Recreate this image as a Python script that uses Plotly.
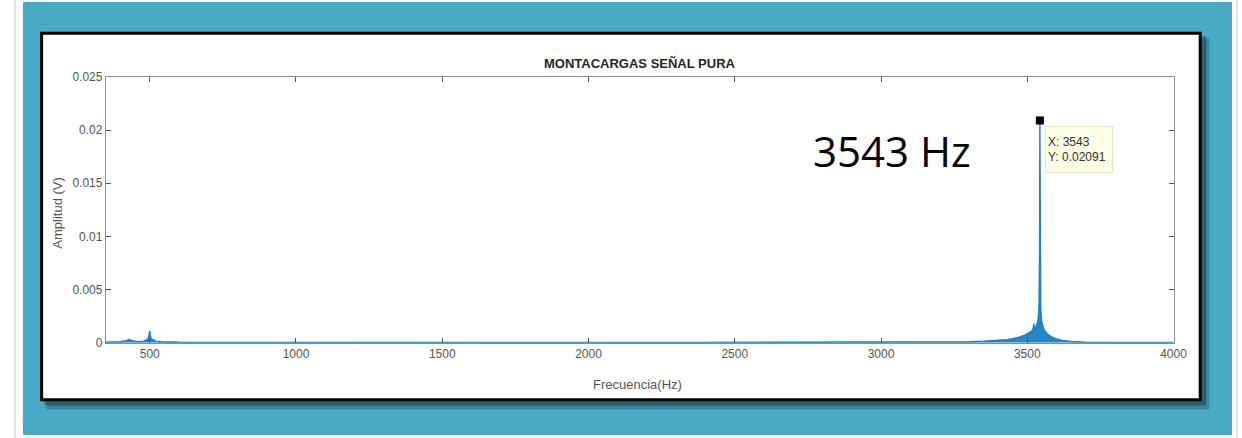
import plotly.graph_objects as go

# ---- data ----
freq_hz = [350, 380, 400, 420, 430, 440, 460, 480, 490, 495, 500, 503, 505, 510, 520, 540,
           600, 700, 900, 1200, 1500, 1800, 2100, 2400, 2700, 2900, 3100, 3200, 3300, 3350,
           3400, 3430, 3450, 3470, 3490, 3505, 3515, 3520, 3522, 3525, 3530, 3535, 3538,
           3540, 3541, 3542, 3543, 3544, 3545, 3546, 3548, 3550, 3555, 3560, 3570, 3580,
           3590, 3600, 3620, 3650, 3700, 3800, 3900, 4000]
amplitude_v = [0.00005, 0.00008, 0.0001, 0.0002, 0.0003, 0.0002, 0.0001, 0.00015, 0.0003,
               0.0004, 0.0011, 0.0004, 0.0003, 0.0003, 0.00015, 0.0001,
               0.00005, 0.00004, 0.00003, 0.00003, 0.00003, 0.00003, 0.00003, 0.00003,
               0.00003, 0.00004, 0.00005, 0.00007, 0.0001, 0.00014,
               0.0002, 0.00028, 0.00038, 0.0005, 0.0007, 0.0009, 0.0011, 0.0013, 0.0018,
               0.0012, 0.0015, 0.0019, 0.0024,
               0.0035, 0.0055, 0.0085, 0.02091, 0.0075, 0.0048, 0.0033, 0.0024, 0.0019,
               0.0014, 0.0011, 0.0008, 0.0006,
               0.00045, 0.00035, 0.00022, 0.00012, 0.00006, 0.00003, 0.00002, 0.00002]

peak_freq = 3543
peak_amp = 0.02091

x_tickvals = [500, 1000, 1500, 2000, 2500, 3000, 3500, 4000]
x_ticktext = ["500", "1000", "1500", "2000", "2500", "3000", "3500", "4000"]
y_tickvals = [0, 0.005, 0.01, 0.015, 0.02, 0.025]
y_ticktext = ["0", "0.005", "0.01", "0.015", "0.02", "0.025"]

TEAL = "#4aa9c4"
SIDE_LINE = "#e2e2e2"

# page is 1242x438; the browser's default 8px body margin surrounds the figure
PAGE_MARGIN = 8
W, H = 1242 - 2 * PAGE_MARGIN, 438 - 2 * PAGE_MARGIN


def px(x):
    return (x - PAGE_MARGIN) / W


def py(y):
    return 1 - (y - PAGE_MARGIN) / H


fig = go.Figure()

fig.add_trace(go.Scatter(
    x=freq_hz, y=amplitude_v, mode="lines",
    line=dict(color="#1f7fc8", width=1.4),
    fill="tozeroy", fillcolor="rgba(0,114,189,0.85)",
    hoverinfo="skip", showlegend=False,
))
fig.add_trace(go.Scatter(
    x=[peak_freq], y=[peak_amp], mode="markers",
    marker=dict(symbol="square", size=8, color="black"),
    hoverinfo="skip", showlegend=False,
))

shapes = [
    # page side line
    dict(type="line", xref="paper", yref="paper", x0=px(15), x1=px(15), y0=-0.1, y1=1.1,
         line=dict(color=SIDE_LINE, width=2), layer="below"),
    # teal frame
    dict(type="rect", xref="paper", yref="paper", x0=px(23), x1=px(1232), y0=py(440), y1=py(0),
         fillcolor=TEAL, line=dict(width=0), layer="below"),
    # shadow
    dict(type="rect", xref="paper", yref="paper", x0=px(47), x1=px(1223), y0=py(416), y1=py(32),
         fillcolor="rgba(30,70,85,0.35)", line=dict(width=0), layer="below"),
    dict(type="rect", xref="paper", yref="paper", x0=px(45), x1=px(1220), y0=py(412), y1=py(30),
         fillcolor="rgba(20,50,60,0.45)", line=dict(width=0), layer="below"),
    # white box with black border
    dict(type="rect", xref="paper", yref="paper", x0=px(42), x1=px(1214), y0=py(406), y1=py(27),
         fillcolor="white", line=dict(color="black", width=3), layer="below"),
]

annotations = [
    dict(text="<b>MONTACARGAS SEÑAL PURA</b>", xref="paper", yref="paper",
         x=px(647), y=py(58), xanchor="center", yanchor="middle", showarrow=False,
         font=dict(family="Liberation Sans, Arial", size=13, color="#262626")),
    dict(text="Frecuencia(Hz)", xref="paper", yref="paper",
         x=px(645), y=py(390), xanchor="center", yanchor="middle", showarrow=False,
         font=dict(family="Liberation Sans, Arial", size=13, color="#555555")),
    dict(text="Amplitud (V)", xref="paper", yref="paper", textangle=-90,
         x=px(58), y=py(212), xanchor="center", yanchor="middle", showarrow=False,
         font=dict(family="Liberation Sans, Arial", size=13, color="#555555")),
    dict(text="3543 Hz", xref="paper", yref="paper",
         x=px(820), y=py(148), xanchor="left", yanchor="middle", showarrow=False,
         font=dict(family="Open Sans, Noto Sans", size=42, color="black")),
    dict(text="X: 3543<br>Y: 0.02091", xref="x", yref="y", x=peak_freq, y=peak_amp,
         xanchor="left", yanchor="top", xshift=5, yshift=-6, showarrow=False, align="left",
         width=62, height=41, valign="middle",
         bgcolor="#fdfde3", bordercolor="#e6e6c8", borderwidth=1, borderpad=2,
         font=dict(family="Liberation Sans, Arial", size=12, color="#333333")),
]

axis_common = dict(
    showline=True, linecolor="#8c8c8c", linewidth=1, mirror="ticks",
    ticks="inside", ticklen=5, tickcolor="#555555", tickwidth=1,
    showgrid=False, zeroline=False,
    tickfont=dict(family="Liberation Sans, Arial", size=12, color="#555555"),
)

fig.update_layout(
    width=W, height=H,
    margin=dict(l=0, r=0, t=0, b=0),
    paper_bgcolor="rgba(0,0,0,0)", plot_bgcolor="white",
    shapes=shapes, annotations=annotations,
    xaxis=dict(domain=[px(107), px(1187)], range=[350, 4000],
               tickvals=x_tickvals, ticktext=x_ticktext, **axis_common),
    yaxis=dict(domain=[py(347), py(72)], range=[0, 0.025],
               tickvals=y_tickvals, ticktext=y_ticktext, **axis_common),
    showlegend=False,
)

# paint the frame pieces that fall in the page margin around the figure
page_bg = (
    f"linear-gradient({TEAL},{TEAL}) 23px 2px/1209px 433px no-repeat,"
    f"linear-gradient({SIDE_LINE},{SIDE_LINE}) 1236px 0/2px 100% no-repeat,"
    f"linear-gradient({SIDE_LINE},{SIDE_LINE}) 14px 0/2px 100% no-repeat,white"
)

fig.write_html(
    "out.html",
    config={"displayModeBar": False},
    post_script=f"document.body.style.background='{page_bg}';",
)
